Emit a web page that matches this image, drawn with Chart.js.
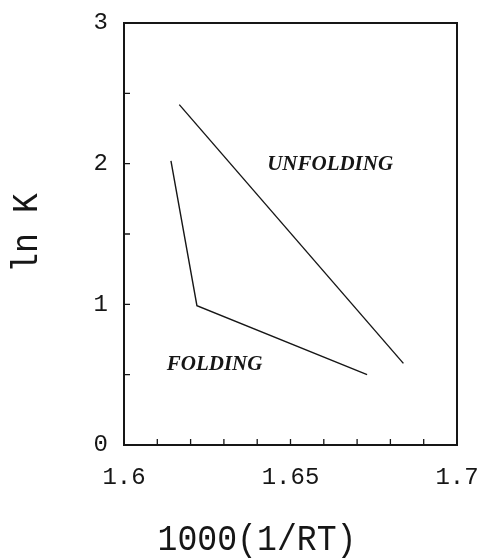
<!DOCTYPE html>
<html>
<head>
<meta charset="utf-8">
<script src="https://cdn.jsdelivr.net/npm/chart.js@4/dist/chart.umd.min.js"></script>
<style>
  html, body { margin: 0; padding: 0; background: #fff; }
  #wrap { width: 483px; height: 558px; position: relative; }
</style>
</head>
<body>
<div id="wrap"><canvas id="arrhenius"></canvas></div>
<script>
// ln K against 1000/RT for the two transitions
const unfoldX = [1.6166, 1.6839];
const unfoldY = [2.42, 0.58];
const foldX = [1.6141, 1.6219, 1.6730];
const foldY = [2.02, 0.99, 0.50];

// axis ranges and tick spacing
const xMin = 1.6, xMax = 1.7, xStep = 0.01;
const yMin = 0, yMax = 3, yStep = 0.5;
const xLabelEvery = [1.6, 1.65, 1.7];
const yLabelEvery = [0, 1, 2, 3];

// text placed next to the curves (data coordinates)
const curveNotes = [
  { text: 'UNFOLDING', x: 1.6619, y: 1.99 },
  { text: 'FOLDING', x: 1.6272, y: 0.57 }
];

const ink = '#161616';
const pts = (xs, ys) => xs.map((x, i) => ({ x, y: ys[i] }));

// frame, inward ticks, axis titles and curve notes
const plotterFrame = {
  id: 'plotterFrame',
  afterDraw(chart) {
    const { ctx, chartArea: a, scales } = chart;
    ctx.save();
    ctx.strokeStyle = ink;
    ctx.lineWidth = 2;
    ctx.strokeRect(a.left, a.top, a.right - a.left, a.bottom - a.top);

    ctx.lineWidth = 1.3;
    ctx.beginPath();
    scales.x.ticks.forEach(t => {
      const px = scales.x.getPixelForValue(t.value);
      ctx.moveTo(px, a.bottom);
      ctx.lineTo(px, a.bottom - 6);
    });
    scales.y.ticks.forEach(t => {
      const py = scales.y.getPixelForValue(t.value);
      ctx.moveTo(a.left, py);
      ctx.lineTo(a.left + 6, py);
    });
    ctx.stroke();

    ctx.fillStyle = ink;
    ctx.textAlign = 'center';
    ctx.textBaseline = 'middle';
    ctx.font = '36px "Liberation Mono"';
    ctx.save();
    ctx.translate(257, 540);
    ctx.scale(0.92, 1);
    ctx.fillText('1000(1/RT)', 0, 0);
    ctx.restore();
    ctx.save();
    ctx.translate(27, 233);
    ctx.rotate(-Math.PI / 2);
    ctx.scale(0.92, 1);
    ctx.fillText('ln K', 0, 0);
    ctx.restore();

    ctx.font = 'italic bold 21px "Liberation Serif"';
    curveNotes.forEach(n => {
      ctx.fillText(n.text, scales.x.getPixelForValue(n.x), scales.y.getPixelForValue(n.y));
    });
    ctx.restore();
  }
};

const ctx = document.getElementById('arrhenius').getContext('2d');
new Chart(ctx, {
  type: 'scatter',
  data: {
    datasets: [
      { label: 'Unfolding', data: pts(unfoldX, unfoldY), showLine: true,
        borderColor: ink, borderWidth: 1.4, pointRadius: 0, fill: false },
      { label: 'Folding', data: pts(foldX, foldY), showLine: true,
        borderColor: ink, borderWidth: 1.4, pointRadius: 0, fill: false }
    ]
  },
  options: {
    responsive: true,
    maintainAspectRatio: false,
    animation: false,
    layout: { padding: { top: 23, right: 26, left: 0, bottom: 0 } },
    plugins: { legend: { display: false }, tooltip: { enabled: false } },
    scales: {
      x: {
        type: 'linear', min: xMin, max: xMax,
        grid: { display: false, drawTicks: false },
        border: { display: false },
        afterFit: s => { s.height = 113; s.paddingLeft = 0; s.paddingRight = 0; },
        ticks: {
          stepSize: xStep, autoSkip: false, maxRotation: 0, padding: 18,
          color: ink, font: { family: 'Liberation Mono', size: 24 },
          callback: v => {
            const hit = xLabelEvery.find(l => Math.abs(l - v) < 1e-6);
            return hit === undefined ? '' : String(hit);
          }
        }
      },
      y: {
        type: 'linear', min: yMin, max: yMax,
        grid: { display: false, drawTicks: false },
        border: { display: false },
        afterFit: s => { s.width = 124; s.paddingTop = 0; s.paddingBottom = 0; },
        ticks: {
          stepSize: yStep, autoSkip: false, padding: 16,
          color: ink, font: { family: 'Liberation Mono', size: 24 },
          callback: v => yLabelEvery.includes(v) ? String(v) : ''
        }
      }
    }
  },
  plugins: [plotterFrame]
});
</script>
</body>
</html>
